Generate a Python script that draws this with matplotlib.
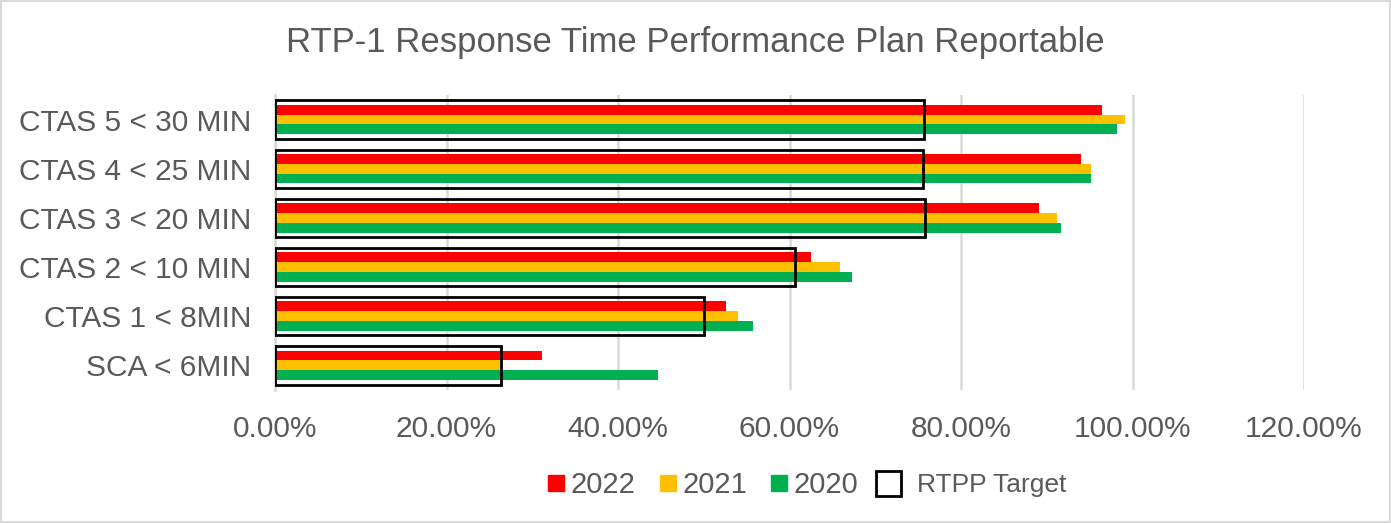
import numpy as np
import matplotlib.pyplot as plt
from matplotlib.lines import Line2D
from matplotlib.patches import Rectangle

plt.rcParams['font.family'] = ['Liberation Sans', 'DejaVu Sans']

# datos (de abajo hacia arriba)
categorias = ['SCA < 6MIN', 'CTAS 1 < 8MIN', 'CTAS 2 < 10 MIN',
              'CTAS 3 < 20 MIN', 'CTAS 4 < 25 MIN', 'CTAS 5 < 30 MIN']
v2022 = [31.1, 52.6, 62.5, 89.1, 94.0, 96.4]
v2021 = [26.2, 54.0, 65.9, 91.2, 95.2, 99.1]
v2020 = [44.7, 55.7, 67.3, 91.6, 95.2, 98.2]
objetivo = [26.3, 50.0, 60.6, 75.8, 75.6, 75.7]
ticks_x = [0, 20, 40, 60, 80, 100, 120]

gris = '#595959'
y = np.arange(len(categorias))
h = 0.2

fig = plt.figure(figsize=(13.91, 5.23), dpi=100)
ax = fig.add_axes([0.1977, 0.2543, 0.7398, 0.5641])

ax.barh(y + h, v2022, height=h, color='#FF0000', zorder=2)
ax.barh(y, v2021, height=h, color='#FFC000', zorder=2)
ax.barh(y - h, v2020, height=h, color='#00B050', zorder=2)
ax.barh(y, objetivo, height=0.78, facecolor='none', edgecolor='black', linewidth=2.0, zorder=3)

ax.set_xlim(0, 120)
ax.set_ylim(-0.5, len(categorias) - 0.5)
ax.set_xticks(ticks_x)
ax.set_xticklabels([f'{t:.2f}%' for t in ticks_x])
ax.set_yticks(y)
ax.set_yticklabels(categorias)
ax.tick_params(axis='both', length=0, labelsize=21.5, colors=gris)
ax.tick_params(axis='x', pad=18)
ax.tick_params(axis='y', pad=17)
ax.grid(axis='x', color='#D9D9D9', linewidth=1.8, zorder=0)
ax.set_axisbelow(True)
for s in ['top', 'right', 'bottom']:
    ax.spines[s].set_visible(False)
ax.spines['left'].set_color('#D9D9D9')
ax.spines['left'].set_linewidth(1.8)

fig.text(0.5, 0.918, 'RTP-1 Response Time Performance Plan Reportable', fontsize=25,
         color=gris, ha='center', va='center')

# leyenda de los años
h_anios = [Line2D([], [], marker='s', linestyle='none', markersize=11, color=c)
           for c in ['#FF0000', '#FFC000', '#00B050']]
leg1 = fig.legend(h_anios, ['2022', '2021', '2020'], loc='center',
                  bbox_to_anchor=(0.505, 0.073), ncol=3, frameon=False, fontsize=21,
                  handlelength=0.7, handletextpad=0.15, columnspacing=0.75)
for t in leg1.get_texts():
    t.set_color(gris)

# leyenda del objetivo
h_obj = [Line2D([], [], marker='s', linestyle='none', markersize=18, markerfacecolor='none',
                markeredgecolor='black', markeredgewidth=2.0)]
leg2 = fig.legend(h_obj, ['RTPP Target'], loc='center', bbox_to_anchor=(0.698, 0.073),
                  frameon=False, fontsize=19, handlelength=1.0, handletextpad=0.6)
for t in leg2.get_texts():
    t.set_color(gris)

fig.patches.append(Rectangle((0.001, 0.002), 0.998, 0.996, transform=fig.transFigure,
                             fill=False, edgecolor='#D9D9D9', linewidth=1.5))

fig.savefig('out.png', dpi=100)
